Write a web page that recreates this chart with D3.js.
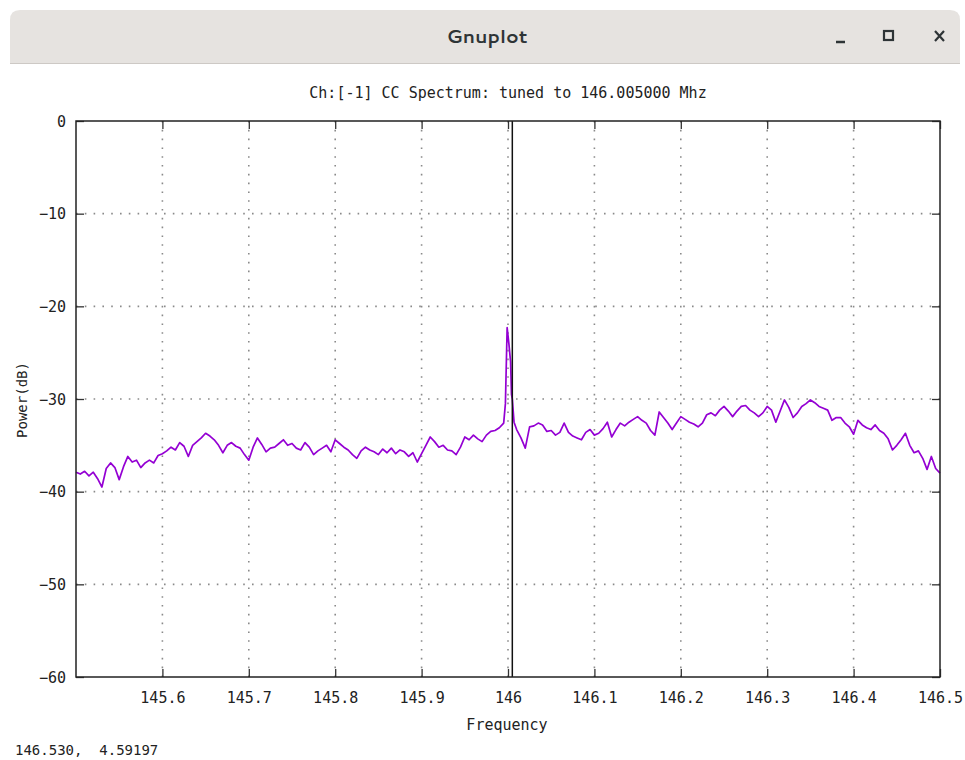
<!DOCTYPE html>
<html>
<head>
  <meta charset="utf-8">
  <script src="https://d3js.org/d3.v7.min.js"></script>
  <style>
    body { margin: 0; background: #ffffff; }
    svg { display: block; }
    .mono { font-family: "DejaVu Sans Mono", "Liberation Mono", monospace; fill: #222; }
  </style>
</head>
<body>
<svg id="chart"></svg>
<script>
  // spectrum values
  const freqs = [
    145.500, 145.505, 145.510, 145.515, 145.520, 145.525, 145.530, 145.535, 145.540, 145.545,
    145.550, 145.555, 145.560, 145.565, 145.570, 145.575, 145.580, 145.585, 145.590, 145.595,
    145.600, 145.605, 145.610, 145.615, 145.620, 145.625, 145.630, 145.635, 145.640, 145.645,
    145.650, 145.655, 145.660, 145.665, 145.670, 145.675, 145.680, 145.685, 145.690, 145.695,
    145.700, 145.705, 145.710, 145.715, 145.720, 145.725, 145.730, 145.735, 145.740, 145.745,
    145.750, 145.755, 145.760, 145.765, 145.770, 145.775, 145.780, 145.785, 145.790, 145.795,
    145.800, 145.805, 145.810, 145.815, 145.820, 145.825, 145.830, 145.835, 145.840, 145.845,
    145.850, 145.855, 145.860, 145.865, 145.870, 145.875, 145.880, 145.885, 145.890, 145.895,
    145.900, 145.905, 145.910, 145.915, 145.920, 145.925, 145.930, 145.935, 145.940, 145.945,
    145.950, 145.955, 145.960, 145.965, 145.970, 145.975, 145.980, 145.985, 145.990, 145.995,
    145.997, 145.999, 146.001, 146.003, 146.004, 146.005, 146.007,
    146.010, 146.015, 146.020, 146.025, 146.030, 146.035, 146.040, 146.045,
    146.050, 146.055, 146.060, 146.065, 146.070, 146.075, 146.080, 146.085, 146.090, 146.095,
    146.100, 146.105, 146.110, 146.115, 146.120, 146.125, 146.130, 146.135, 146.140, 146.145,
    146.150, 146.155, 146.160, 146.165, 146.170, 146.175, 146.180, 146.185, 146.190, 146.195,
    146.200, 146.205, 146.210, 146.215, 146.220, 146.225, 146.230, 146.235, 146.240, 146.245,
    146.250, 146.255, 146.260, 146.265, 146.270, 146.275, 146.280, 146.285, 146.290, 146.295,
    146.300, 146.305, 146.310, 146.315, 146.320, 146.325, 146.330, 146.335, 146.340, 146.345,
    146.350, 146.355, 146.360, 146.365, 146.370, 146.375, 146.380, 146.385, 146.390, 146.395,
    146.400, 146.405, 146.410, 146.415, 146.420, 146.425, 146.430, 146.435, 146.440, 146.445,
    146.450, 146.455, 146.460, 146.465, 146.470, 146.475, 146.480, 146.485, 146.490, 146.495,
    146.500
  ];
  const power = [
    -37.9, -38.1, -37.8, -38.3, -37.9, -38.6, -39.5, -37.5, -36.9, -37.4,
    -38.7, -37.3, -36.2, -36.8, -36.6, -37.4, -36.9, -36.6, -36.9, -36.1,
    -35.9, -35.6, -35.2, -35.5, -34.7, -35.1, -36.2, -35.0, -34.6, -34.2,
    -33.7, -34.0, -34.4, -35.0, -35.8, -35.0, -34.7, -35.1, -35.3, -36.0,
    -36.6, -35.2, -34.2, -34.9, -35.7, -35.3, -35.2, -34.8, -34.4, -35.0,
    -34.8, -35.3, -35.5, -34.7, -35.2, -36.0, -35.6, -35.3, -35.0, -35.7,
    -34.4, -34.8, -35.2, -35.5, -36.0, -36.4, -35.6, -35.2, -35.5, -35.7,
    -36.0, -35.4, -35.8, -35.3, -35.9, -35.5, -35.7, -36.2, -35.8, -36.8,
    -35.9, -35.0, -34.1, -34.6, -35.2, -35.0, -35.5, -35.6, -36.0, -35.2,
    -34.1, -34.4, -33.9, -34.3, -34.6, -33.9, -33.5, -33.4, -33.1, -32.6,
    -30.5, -22.3, -24.0, -26.0, -29.5, -30.0, -32.5,
    -33.3, -34.2, -35.3, -33.0, -32.9, -32.6, -32.8, -33.5,
    -33.4, -33.9, -33.6, -32.6, -33.6, -34.0, -34.2, -34.4, -33.6, -33.3,
    -33.9, -33.7, -33.2, -32.5, -34.1, -33.3, -32.6, -32.9, -32.5, -32.2,
    -31.9, -32.3, -32.6, -33.4, -33.9, -31.4, -32.0, -32.6, -33.3, -32.6,
    -31.9, -32.2, -32.5, -32.7, -33.0, -32.6, -31.7, -31.5, -31.8, -31.2,
    -30.8, -31.3, -31.9, -31.3, -30.8, -30.7, -31.2, -31.5, -31.9, -31.5,
    -30.8, -31.2, -32.5, -31.3, -30.1, -30.9, -32.0, -31.5, -30.8, -30.5,
    -30.1, -30.4, -30.8, -31.0, -31.2, -32.3, -32.0, -32.0, -32.6, -33.0,
    -33.8, -32.3, -32.8, -33.1, -33.3, -32.8, -33.4, -33.7, -34.3, -35.5,
    -35.0, -34.4, -33.7, -35.0, -35.8, -35.6, -36.4, -37.6, -36.2, -37.5,
    -38.0
  ];
  const xTicks = [145.6, 145.7, 145.8, 145.9, 146.0, 146.1, 146.2, 146.3, 146.4, 146.5];
  const xTickLabels = ["145.6", "145.7", "145.8", "145.9", "146", "146.1", "146.2", "146.3", "146.4", "146.5"];
  const yTicks = [0, -10, -20, -30, -40, -50, -60];
  const tunedFreq = 146.005;

  const W = 965, H = 760;
  const plot = { left: 76, right: 940, top: 121, bottom: 677 };

  const svg = d3.select("#chart").attr("width", W).attr("height", H);

  // window title bar
  svg.append("path")
    .attr("d", `M10,63 L10,20 Q10,10 20,10 L950,10 Q960,10 960,20 L960,63 Z`)
    .attr("fill", "#e6e3e0");
  svg.append("line")
    .attr("x1", 10).attr("x2", 960).attr("y1", 63.5).attr("y2", 63.5)
    .attr("stroke", "#cdc9c5");
  svg.append("text")
    .attr("x", 487).attr("y", 43)
    .attr("text-anchor", "middle")
    .style("font-family", "Cantarell, 'Noto Sans', 'DejaVu Sans', sans-serif")
    .style("font-size", "19px").style("font-weight", "600")
    .attr("fill", "#2e3436")
    .text("Gnuplot");
  // window buttons
  svg.append("line").attr("x1", 836).attr("x2", 845).attr("y1", 42).attr("y2", 42)
    .attr("stroke", "#2e3436").attr("stroke-width", 2.5);
  svg.append("rect").attr("x", 884).attr("y", 31).attr("width", 9).attr("height", 9)
    .attr("fill", "none").attr("stroke", "#2e3436").attr("stroke-width", 2.2);
  svg.append("path").attr("d", "M935,31 L944,41 M944,31 L935,41")
    .attr("stroke", "#2e3436").attr("stroke-width", 2.2);

  const x = d3.scaleLinear().domain([145.5, 146.5]).range([plot.left, plot.right]);
  const y = d3.scaleLinear().domain([-60, 0]).range([plot.bottom, plot.top]);

  // grid
  const grid = svg.append("g")
    .attr("stroke", "#8a8a8a").attr("stroke-width", 1.6)
    .attr("stroke-dasharray", "1.6,7.2");
  grid.selectAll(".gx").data(xTicks.slice(0, -1)).join("line")
    .attr("x1", d => x(d)).attr("x2", d => x(d))
    .attr("y1", plot.bottom).attr("y2", plot.top);
  grid.selectAll(".gy").data(yTicks.slice(1, -1)).join("line")
    .attr("x1", plot.left).attr("x2", plot.right)
    .attr("y1", d => y(d)).attr("y2", d => y(d));

  // axes with inward ticks, mirrored
  const tickLen = 8;
  const axisBottom = d3.axisBottom(x).tickValues(xTicks)
    .tickFormat((d, i) => xTickLabels[i]).tickSizeInner(-tickLen).tickSizeOuter(0).tickPadding(15);
  const axisTop = d3.axisTop(x).tickValues(xTicks).tickFormat("").tickSizeInner(-tickLen).tickSizeOuter(0);
  const axisLeft = d3.axisLeft(y).tickValues(yTicks).tickFormat(d3.format("d"))
    .tickSizeInner(-tickLen).tickSizeOuter(0).tickPadding(10);
  const axisRight = d3.axisRight(y).tickValues(yTicks).tickFormat("").tickSizeInner(-tickLen).tickSizeOuter(0);

  const gB = svg.append("g").attr("transform", `translate(0,${plot.bottom})`).call(axisBottom);
  const gT = svg.append("g").attr("transform", `translate(0,${plot.top})`).call(axisTop);
  const gL = svg.append("g").attr("transform", `translate(${plot.left},0)`).call(axisLeft);
  const gR = svg.append("g").attr("transform", `translate(${plot.right},0)`).call(axisRight);
  [gB, gT, gL, gR].forEach(g => {
    g.select(".domain").remove();
    g.selectAll(".tick line").attr("stroke", "#333").attr("stroke-width", 1.3);
    g.selectAll(".tick text")
      .attr("class", "mono")
      .style("font-size", "15px")
      .attr("fill", "#222");
  });
  gB.selectAll(".tick text").attr("dy", "0.71em");
  gL.selectAll(".tick text").attr("dy", "0.35em");

  // spectrum trace
  const line = d3.line().x((d, i) => x(freqs[i])).y(d => y(d));
  svg.append("path")
    .datum(power)
    .attr("d", line)
    .attr("fill", "none")
    .attr("stroke", "#9400d3")
    .attr("stroke-width", 1.7)
    .attr("stroke-linejoin", "round");

  // tuned frequency marker
  svg.append("line")
    .attr("x1", x(tunedFreq)).attr("x2", x(tunedFreq))
    .attr("y1", plot.top).attr("y2", plot.bottom)
    .attr("stroke", "#111").attr("stroke-width", 1.5);

  // plot border
  svg.append("rect")
    .attr("x", plot.left).attr("y", plot.top)
    .attr("width", plot.right - plot.left).attr("height", plot.bottom - plot.top)
    .attr("fill", "none").attr("stroke", "#222").attr("stroke-width", 1.5);

  // labels
  svg.append("text").attr("class", "mono")
    .attr("x", 508).attr("y", 98).attr("text-anchor", "middle")
    .style("font-size", "15px")
    .text("Ch:[-1] CC Spectrum: tuned to 146.005000 Mhz");
  svg.append("text").attr("class", "mono")
    .attr("transform", "translate(27,400) rotate(-90)").attr("text-anchor", "middle")
    .style("font-size", "14px")
    .text("Power(dB)");
  svg.append("text").attr("class", "mono")
    .attr("x", 507).attr("y", 730).attr("text-anchor", "middle")
    .style("font-size", "15px")
    .text("Frequency");
  svg.append("text").attr("class", "mono")
    .attr("x", 15).attr("y", 755)
    .style("font-size", "14px")
    .attr("xml:space", "preserve")
    .text("146.530,  4.59197");
</script>
</body>
</html>
